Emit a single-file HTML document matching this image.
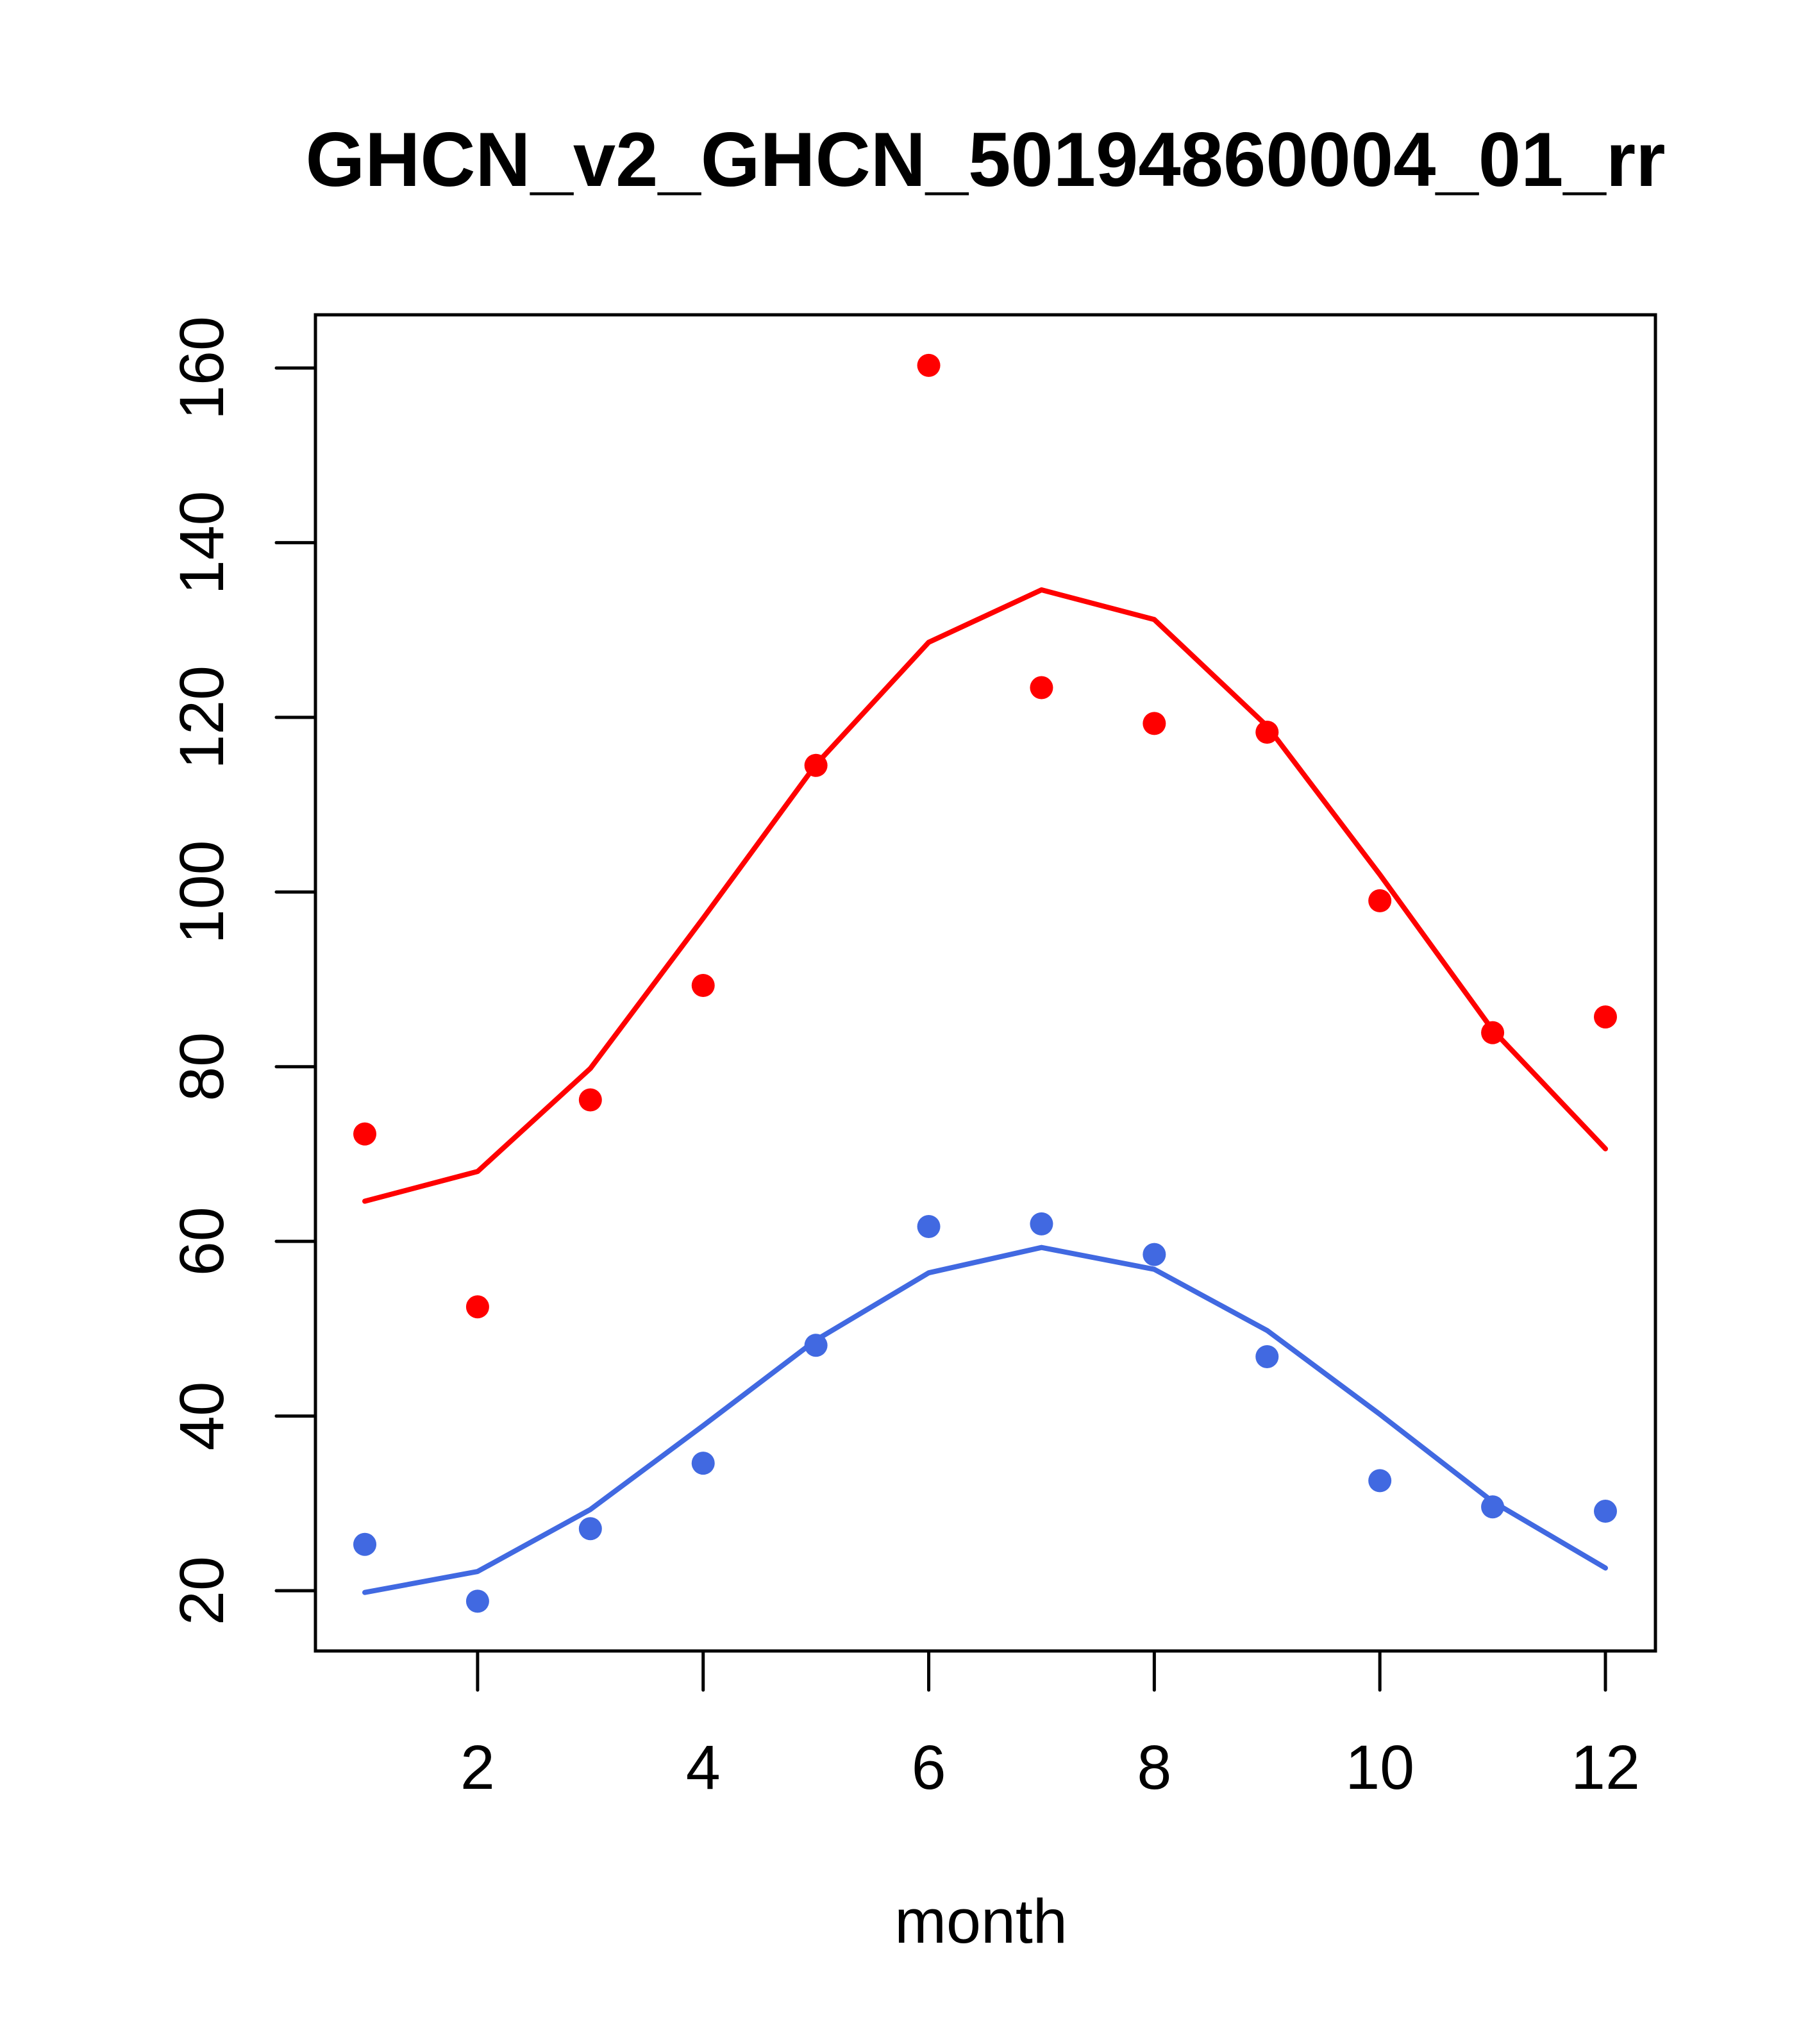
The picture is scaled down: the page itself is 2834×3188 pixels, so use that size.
<!DOCTYPE html>
<html><head><meta charset="utf-8"><style>
html,body{margin:0;padding:0;background:#fff;}
svg{display:block;font-family:"Liberation Sans",Arial,sans-serif;}
</style></head><body>
<svg id="chart" width="2834" height="3188" viewBox="0 0 2834 3188" xmlns="http://www.w3.org/2000/svg">
<rect width="2834" height="3188" fill="#fff"/>
<text x="1537" y="290" text-anchor="middle" font-size="120" font-weight="bold" textLength="2121" lengthAdjust="spacingAndGlyphs">GHCN_v2_GHCN_50194860004_01_rr</text>
<text x="1530" y="3030" text-anchor="middle" font-size="97">month</text>
<g id="axes"></g>
<g id="series"></g>
<rect x="492" y="491" width="2090" height="2084" fill="none" stroke="#000" stroke-width="5"/>
</svg>
<script>
const months = [1,2,3,4,5,6,7,8,9,10,11,12];
const redPoints = [72.3,52.5,76.2,89.3,114.5,160.3,123.4,119.3,118.3,99,83.9,85.7];
const redLine = [64.6,68,79.8,97,114.6,128.6,134.6,131.2,119,102,84.2,70.6];
const bluePoints = [25.3,18.8,27.1,34.6,48.1,61.7,62,58.5,46.8,32.6,29.6,29.1];
const blueLine = [19.8,22.2,29.3,38.9,48.7,56.4,59.3,56.8,49.8,40.2,30.2,22.6];
const xTicks = [2,4,6,8,10,12];
const yTicks = [20,40,60,80,100,120,140,160];

const NS = "http://www.w3.org/2000/svg";
function xs(m){ return 569 + (m-1)*(2504-569)/11; }
function ys(v){ return 2481 - (v-20)*(2481-574)/140; }
function mk(tag, attrs, parent){
  const e = document.createElementNS(NS, tag);
  for (const k in attrs) e.setAttribute(k, attrs[k]);
  parent.appendChild(e);
  return e;
}
const axes = document.getElementById('axes');
const series = document.getElementById('series');

xTicks.forEach(t => {
  const l = mk('line', {x1:xs(t), x2:xs(t), y1:2575, y2:2636, stroke:'#000', 'stroke-width':5, 'stroke-linecap':'round'}, axes);
  
  
  const tx = mk('text', {x:xs(t), y:2790, 'text-anchor':'middle', 'font-size':97}, axes);
  tx.textContent = t;
  
  
});
yTicks.forEach(t => {
  const l = mk('line', {x1:431, x2:492, y1:ys(t), y2:ys(t), stroke:'#000', 'stroke-width':5, 'stroke-linecap':'round'}, axes);
  
  
  const tx = mk('text', {x:0, y:0, 'text-anchor':'middle', 'font-size':97, transform:'translate(348,'+ys(t)+') rotate(-90)'}, axes);
  tx.textContent = t;
  
  
});

function drawLine(vals, color, name){
  const pts = vals.map((v,i) => xs(months[i]) + ',' + ys(v)).join(' ');
  const p = mk('polyline', {points:pts, fill:'none', stroke:color, 'stroke-width':8, 'stroke-linejoin':'round', 'stroke-linecap':'round'}, series);
  
  
}
function drawPoints(vals, color, name){
  vals.forEach((v,i) => {
    const c = mk('circle', {cx:xs(months[i]), cy:ys(v), r:18, fill:color}, series);
    
    
  });
}
drawLine(redLine, '#ff0000', 'red-line');
drawLine(blueLine, '#4169e1', 'blue-line');
drawPoints(redPoints, '#ff0000', 'red-point');
drawPoints(bluePoints, '#4169e1', 'blue-point');
</script>
</body></html>
